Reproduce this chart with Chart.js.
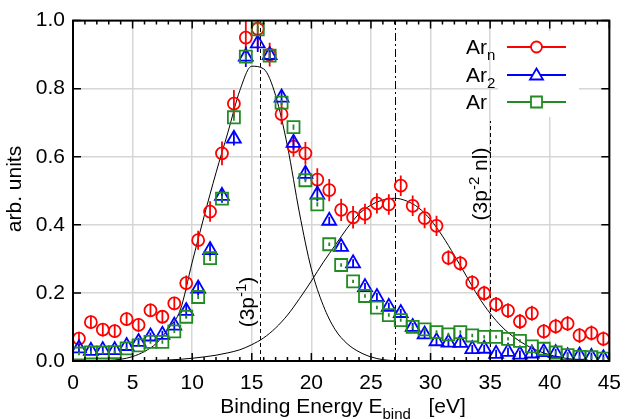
<!DOCTYPE html>
<html>
<head>
<meta charset="utf-8">
<script src="https://cdn.jsdelivr.net/npm/chart.js@4.4.1/dist/chart.umd.min.js"></script>
<style>
  html, body { margin: 0; padding: 0; background: #fff; }
</style>
</head>
<body>
<canvas id="myChart" width="631" height="419"></canvas>
<script>
const energy = [0.5, 1.5, 2.5, 3.5, 4.5, 5.5, 6.5, 7.5, 8.5, 9.5, 10.5, 11.5, 12.5, 13.5, 14.5,
  15.5, 16.5, 17.5, 18.5, 19.5, 20.5, 21.5, 22.5, 23.5, 24.5, 25.5, 26.5, 27.5, 28.5, 29.5,
  30.5, 31.5, 32.5, 33.5, 34.5, 35.5, 36.5, 37.5, 38.5, 39.5, 40.5, 41.5, 42.5, 43.5, 44.5];

const arN = [0.066, 0.114, 0.092, 0.088, 0.123, 0.106, 0.149, 0.130, 0.169, 0.229, 0.355, 0.439, 0.610, 0.756, 0.950,
  0.976, 0.900, 0.725, 0.630, 0.610, 0.533, 0.502, 0.444, 0.422, 0.432, 0.463, 0.460, 0.515, 0.456, 0.420,
  0.397, 0.303, 0.287, 0.230, 0.199, 0.166, 0.148, 0.116, 0.140, 0.087, 0.102, 0.110, 0.075, 0.082, 0.065];
const arNErr = [0.02, 0.02, 0.02, 0.02, 0.02, 0.02, 0.02, 0.02, 0.02, 0.022, 0.028, 0.03, 0.035, 0.04, 0.055,
  0.06, 0.035, 0.03, 0.03, 0.033, 0.033, 0.033, 0.033, 0.033, 0.03, 0.03, 0.03, 0.03, 0.03, 0.03,
  0.03, 0.022, 0.022, 0.022, 0.022, 0.022, 0.022, 0.022, 0.022, 0.022, 0.022, 0.022, 0.022, 0.022, 0.022];

const ar2 = [0.037, 0.030, 0.032, 0.032, 0.044, 0.056, 0.072, 0.077, 0.104, 0.147, 0.213, 0.326, 0.485, 0.653, 0.894,
  0.933, 0.899, 0.774, 0.641, 0.550, 0.489, 0.412, 0.335, 0.287, 0.217, 0.188, 0.159, 0.141, 0.100, 0.078,
  0.058, 0.054, 0.053, 0.035, 0.036, 0.021, 0.027, 0.019, 0.022, 0.026, 0.023, 0.014, 0.016, 0.012, 0.008];
const ar2Err = [0.012, 0.012, 0.012, 0.012, 0.012, 0.012, 0.012, 0.012, 0.012, 0.02, 0.02, 0.02, 0.02, 0.02, 0.03,
  0.025, 0.02, 0.02, 0.02, 0.02, 0.02, 0.012, 0.012, 0.012, 0.012, 0.012, 0.012, 0.012, 0.012, 0.012,
  0.012, 0.012, 0.012, 0.012, 0.012, 0.012, 0.012, 0.012, 0.012, 0.012, 0.012, 0.012, 0.012, 0.012, 0.012];

const ar1 = [0.022, 0.025, 0.025, 0.026, 0.037, 0.046, 0.056, 0.056, 0.087, 0.130, 0.188, 0.302, 0.477, 0.716, 0.894,
  0.974, 0.897, 0.759, 0.687, 0.531, 0.460, 0.343, 0.282, 0.234, 0.191, 0.157, 0.135, 0.120, 0.100, 0.093,
  0.085, 0.078, 0.085, 0.075, 0.071, 0.071, 0.065, 0.059, 0.043, 0.036, 0.025, 0.017, 0.012, 0.011, 0.007];
const ar1Err = [0.005, 0.005, 0.005, 0.005, 0.005, 0.005, 0.005, 0.005, 0.005, 0.006, 0.006, 0.008, 0.008, 0.01, 0.01,
  0.01, 0.01, 0.008, 0.008, 0.006, 0.006, 0.005, 0.005, 0.005, 0.005, 0.005, 0.005, 0.005, 0.005, 0.005,
  0.005, 0.005, 0.005, 0.005, 0.005, 0.005, 0.005, 0.005, 0.005, 0.005, 0.005, 0.005, 0.005, 0.005, 0.005];

// fitted peaks, every 1 eV
const fitX = [0, 1, 2, 3, 4, 5, 6, 7, 8, 9, 10, 11, 12, 13, 14, 15, 16, 17, 18, 19, 20, 21, 22,
  23, 24, 25, 26, 27, 28, 29, 30, 31, 32, 33, 34, 35, 36, 37, 38, 39, 40, 41, 42, 43, 44, 45];
const fitMain = [0, 0, 0.001, 0.002, 0.005, 0.013, 0.028, 0.052, 0.095, 0.15, 0.29, 0.425, 0.553, 0.672, 0.795, 0.866,
  0.858, 0.78, 0.63, 0.435, 0.27, 0.163, 0.092, 0.051, 0.027, 0.012, 0.004, 0.001, 0, 0, 0,
  0, 0, 0, 0, 0, 0, 0, 0, 0, 0, 0, 0, 0, 0, 0];
const fitSat = [0, 0, 0, 0, 0, 0.001, 0.001, 0.002, 0.003, 0.005, 0.008, 0.012, 0.017, 0.024, 0.033, 0.048,
  0.068, 0.097, 0.135, 0.183, 0.235, 0.29, 0.34, 0.39, 0.432, 0.458, 0.473, 0.478, 0.47, 0.45, 0.415,
  0.367, 0.31, 0.25, 0.19, 0.14, 0.10, 0.07, 0.047, 0.03, 0.018, 0.01, 0.005, 0.002, 0.001, 0];

const xTicks = [0, 5, 10, 15, 20, 25, 30, 35, 40, 45];
const yTicks = [0.0, 0.2, 0.4, 0.6, 0.8, 1.0];

// vertical marker lines: position, dash, top of line (data units)
const vLines = [
  { x: 15.7, dash: [4, 3], top: 1.0 },
  { x: 27.0, dash: [8, 3, 2, 3], top: 1.0 },
  { x: 35.0, dash: [4, 3], top: 0.705 }
];

const FONT = "'Liberation Sans', Arial, sans-serif";
const FS = 21;

function pts(xs, ys) {
  return xs.map((x, i) => ({ x: x, y: ys[i] }));
}

function drawRich(ctx, parts, x, y) {
  parts.forEach(p => {
    const small = p.sub || p.sup;
    ctx.font = (small ? 15 : FS) + 'px ' + FONT;
    const dy = p.sub ? 6 : (p.sup ? -8 : 0);
    ctx.fillText(p.t, x, y + dy);
    x += ctx.measureText(p.t).width;
  });
  return x;
}

function richWidth(ctx, parts) {
  let w = 0;
  parts.forEach(p => {
    ctx.font = ((p.sub || p.sup) ? 15 : FS) + 'px ' + FONT;
    w += ctx.measureText(p.t).width;
  });
  return w;
}

function marker(ctx, style, x, y, color) {
  ctx.save();
  ctx.strokeStyle = color;
  ctx.lineWidth = 1.8;
  ctx.fillStyle = '#fff';
  ctx.beginPath();
  if (style === 'circle') {
    ctx.arc(x, y, 5.5, 0, Math.PI * 2);
  } else if (style === 'triangle') {
    ctx.moveTo(x, y - 6.5);
    ctx.lineTo(x + 6.5, y + 4.5);
    ctx.lineTo(x - 6.5, y + 4.5);
    ctx.closePath();
  } else {
    ctx.rect(x - 5.5, y - 5.5, 11, 11);
  }
  ctx.fill();
  ctx.stroke();
  ctx.restore();
}

const extras = {
  id: 'extras',
  beforeDatasetsDraw(chart) {
    const ctx = chart.ctx, xs = chart.scales.x, ys = chart.scales.y;
    ctx.save();
    ctx.strokeStyle = '#000';
    ctx.lineWidth = 1;
    vLines.forEach(l => {
      const px = Math.round(xs.getPixelForValue(l.x)) + 0.5;
      ctx.setLineDash(l.dash);
      ctx.beginPath();
      ctx.moveTo(px, ys.getPixelForValue(0));
      ctx.lineTo(px, ys.getPixelForValue(l.top));
      ctx.stroke();
    });
    ctx.restore();
  },
  afterDatasetDraw(chart, args) {
    const ds = chart.data.datasets[args.index];
    if (!ds.errors) return;
    const ctx = chart.ctx, xs = chart.scales.x, ys = chart.scales.y, a = chart.chartArea;
    ctx.save();
    ctx.beginPath();
    ctx.rect(a.left, a.top, a.right - a.left, a.bottom - a.top);
    ctx.clip();
    ctx.strokeStyle = ds.borderColor;
    ctx.lineWidth = 1.8;
    ctx.beginPath();
    ds.data.forEach((p, i) => {
      const px = xs.getPixelForValue(p.x);
      ctx.moveTo(px, ys.getPixelForValue(p.y - ds.errors[i]));
      ctx.lineTo(px, ys.getPixelForValue(p.y + ds.errors[i]));
    });
    ctx.stroke();
    ctx.restore();
  },
  afterDraw(chart) {
    const ctx = chart.ctx, a = chart.chartArea, xs = chart.scales.x, ys = chart.scales.y;
    ctx.save();

    // frame and ticks
    ctx.strokeStyle = '#000';
    ctx.lineWidth = 2;
    ctx.strokeRect(a.left, a.top, a.right - a.left, a.bottom - a.top);
    ctx.lineWidth = 1.5;
    ctx.beginPath();
    for (let v = 0; v <= 45; v++) {
      const px = xs.getPixelForValue(v);
      const len = v % 5 === 0 ? 8 : 4;
      ctx.moveTo(px, a.bottom); ctx.lineTo(px, a.bottom - len);
      ctx.moveTo(px, a.top); ctx.lineTo(px, a.top + len);
    }
    yTicks.forEach(v => {
      const py = ys.getPixelForValue(v);
      ctx.moveTo(a.left, py); ctx.lineTo(a.left + 8, py);
      ctx.moveTo(a.right, py); ctx.lineTo(a.right - 8, py);
    });
    ctx.stroke();

    ctx.fillStyle = '#000';
    ctx.textAlign = 'left';
    ctx.textBaseline = 'alphabetic';

    // x title with subscript
    const xt = [{ t: 'Binding Energy E' }, { t: 'bind', sub: true }, { t: '   [eV]' }];
    drawRich(ctx, xt, 343 - richWidth(ctx, xt) / 2, 413);

    // y title
    ctx.save();
    ctx.translate(21, 189);
    ctx.rotate(-Math.PI / 2);
    ctx.font = FS + 'px ' + FONT;
    ctx.textAlign = 'center';
    ctx.fillText('arb. units', 0, 0);
    ctx.restore();

    // peak labels
    [[[{ t: '(3p' }, { t: '-1', sup: true }, { t: ')' }], 254, 302],
     [[{ t: '(3p' }, { t: '-2', sup: true }, { t: ' nl)' }], 487, 184]].forEach(([parts, bx, cy]) => {
      ctx.save();
      ctx.translate(bx, cy);
      ctx.rotate(-Math.PI / 2);
      ctx.textAlign = 'left';
      drawRich(ctx, parts, -richWidth(ctx, parts) / 2, 0);
      ctx.restore();
    });

    // legend
    ctx.fillStyle = '#fff';
    ctx.fillRect(498, 31, 81, 86);
    const rows = [
      { main: 'Ar', sub: 'n', color: '#ff0000', style: 'circle', y: 47 },
      { main: 'Ar', sub: '2', color: '#0000ff', style: 'triangle', y: 75 },
      { main: 'Ar', sub: '', color: '#228b22', style: 'rect', y: 102 }
    ];
    rows.forEach(r => {
      ctx.fillStyle = '#000';
      ctx.font = FS + 'px ' + FONT;
      ctx.textAlign = 'right';
      ctx.fillText(r.main, 487, r.y + 7);
      if (r.sub) {
        ctx.textAlign = 'left';
        ctx.font = '15px ' + FONT;
        ctx.fillText(r.sub, 487, r.y + 13);
      }
      ctx.strokeStyle = r.color;
      ctx.lineWidth = 2;
      ctx.beginPath();
      ctx.moveTo(507, r.y);
      ctx.lineTo(566, r.y);
      ctx.stroke();
      marker(ctx, r.style, 536.5, r.y, r.color);
    });
    ctx.restore();
  }
};

new Chart('myChart', {
  type: 'line',
  data: {
    datasets: [
      { label: 'Ar', data: pts(energy, ar1), errors: ar1Err, showLine: false, pointStyle: 'rect',
        pointRadius: 8.5, pointBorderWidth: 1.8, borderColor: '#228b22', backgroundColor: 'rgba(0,0,0,0)', order: 1 },
      { label: 'Ar2', data: pts(energy, ar2), errors: ar2Err, showLine: false, pointStyle: 'triangle',
        pointRadius: 8, pointBorderWidth: 1.8, borderColor: '#0000ff', backgroundColor: 'rgba(0,0,0,0)', order: 2 },
      { label: 'Arn', data: pts(energy, arN), errors: arNErr, showLine: false, pointStyle: 'circle',
        pointRadius: 6, pointBorderWidth: 1.8, borderColor: '#ff0000', backgroundColor: 'rgba(0,0,0,0)', order: 3 },
      { label: 'fit 3p-1', data: pts(fitX, fitMain), borderColor: '#000', borderWidth: 1, pointRadius: 0,
        cubicInterpolationMode: 'monotone', fill: false, order: 4 },
      { label: 'fit 3p-2 nl', data: pts(fitX, fitSat), borderColor: '#000', borderWidth: 1, pointRadius: 0,
        cubicInterpolationMode: 'monotone', fill: false, order: 5 }
    ]
  },
  options: {
    responsive: false,
    animation: false,
    layout: { padding: { left: 0, right: 16, top: 15, bottom: 0 } },
    plugins: { legend: { display: false }, tooltip: { enabled: false } },
    scales: {
      x: {
        type: 'linear', min: 0, max: 45,
        afterBuildTicks: s => { s.ticks = xTicks.map(v => ({ value: v })); },
        afterFit: s => { s.height = 58; },
        ticks: { color: '#000', font: { family: FONT, size: FS }, padding: 10, maxRotation: 0, autoSkip: false },
        grid: { color: '#d6d6d6', lineWidth: 1.5, drawTicks: false },
        border: { display: false }
      },
      y: {
        type: 'linear', min: 0, max: 1,
        afterBuildTicks: s => { s.ticks = yTicks.map(v => ({ value: v })); },
        afterFit: s => { s.width = 73; },
        ticks: { color: '#000', font: { family: FONT, size: FS }, padding: 8, callback: v => v.toFixed(1) },
        grid: { color: '#d6d6d6', lineWidth: 1.5, drawTicks: false },
        border: { display: false }
      }
    }
  },
  plugins: [extras]
});
</script>
</body>
</html>
